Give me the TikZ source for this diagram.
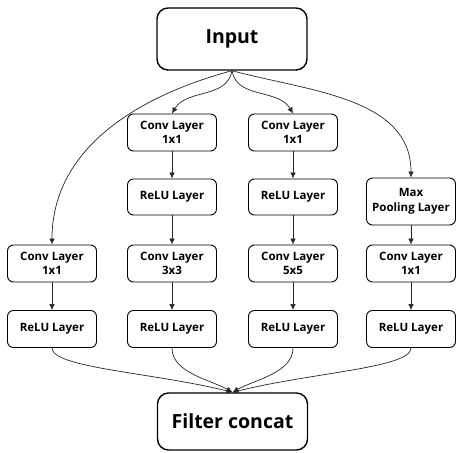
\documentclass[tikz,border=0pt]{standalone}
\usepackage{fontspec}
\setmainfont{Open Sans}
\usetikzlibrary{arrows.meta}
\tikzset{
  layer/.style={draw, rounded corners=6pt, line width=0.9pt, minimum width=89pt,
    minimum height=37pt, inner sep=2pt, align=center,
    font=\fontsize{11.5}{14.5}\selectfont\bfseries},
  bigbox/.style={draw, rounded corners=11pt, line width=1.4pt, minimum width=150pt,
    minimum height=62pt, font=\fontsize{19.5}{24}\selectfont\bfseries},
  flow/.style={-{Latex[length=6pt,width=5.5pt]}, line width=0.7pt, draw=black!85}
}

\begin{document}
\begin{tikzpicture}[x=1pt,y=1pt]
    \useasboundingbox (0,0) rectangle (457,452);

    % Input / concat
    \node[bigbox] (in) at (232,413) {Input};
    \node[bigbox, minimum height=57pt] (cat) at (232.5,30.5) {Filter concat};

    % Branches
    \node[layer] (b1c) at (52,188.5) {Conv Layer\\1x1};
    \node[layer] (b1r) at (52,123) {ReLU Layer};

    \node[layer] (b2c) at (172,319.5) {Conv Layer\\1x1};
    \node[layer, minimum height=36pt] (b2r) at (172,255) {ReLU Layer};
    \node[layer] (b2d) at (172,188.5) {Conv Layer\\3x3};
    \node[layer] (b2e) at (172,123) {ReLU Layer};

    \node[layer] (b3c) at (293,319.5) {Conv Layer\\1x1};
    \node[layer, minimum height=36pt] (b3r) at (293,255) {ReLU Layer};
    \node[layer] (b3d) at (293,188.5) {Conv Layer\\5x5};
    \node[layer] (b3e) at (293,123) {ReLU Layer};

    \node[layer, minimum height=47pt] (b4p) at (411,250.5) {Max\\Pooling Layer};
    \node[layer] (b4c) at (411,188.5) {Conv Layer\\1x1};
    \node[layer] (b4r) at (411,123) {ReLU Layer};

    % Split
    \draw[flow] (in.south) to[out=195,in=90,out distance=90pt,in distance=100pt] (b1c.north);
    \draw[flow] (in.south) to[out=-100,in=60] (b2c.north);
    \draw[flow] (in.south) to[out=-80,in=120] (b3c.north);
    \draw[flow] (in.south) to[out=-15,in=90,out distance=80pt,in distance=80pt] (b4p.north);

    \foreach \a/\b in {b1c/b1r, b2c/b2r, b2r/b2d, b2d/b2e,
                       b3c/b3r, b3r/b3d, b3d/b3e, b4p/b4c, b4c/b4r}
        \draw[flow] (\a) -- (\b);

    % Merge
    \draw[flow] (b1r.south) to[out=-90,in=166,out distance=20pt,in distance=82pt] (cat.north);
    \draw[flow] (b2e.south) to[out=-90,in=150,out distance=25pt,in distance=25pt] (cat.north);
    \draw[flow] (b3e.south) to[out=-90,in=30,out distance=25pt,in distance=25pt] (cat.north);
    \draw[flow] (b4r.south) to[out=-90,in=14,out distance=20pt,in distance=82pt] (cat.north);
\end{tikzpicture}
\end{document}
